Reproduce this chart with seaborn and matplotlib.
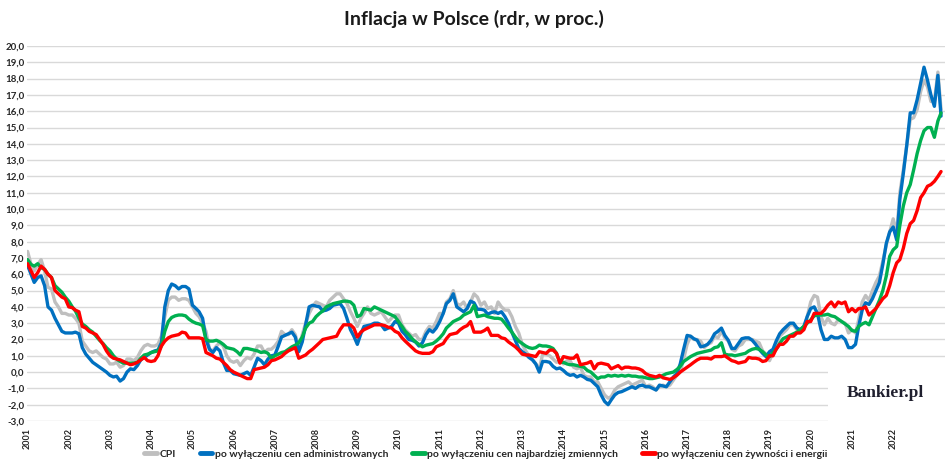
import matplotlib
matplotlib.use('Agg')
import matplotlib.pyplot as plt
from matplotlib.patches import Rectangle
import pandas as pd
import seaborn as sns

# monthly y/y inflation, Jan 2001 - Mar 2023
cpi = [
    7.4, 6.6, 6.2, 6.6, 6.9, 6.2, 5.2, 5.1, 4.3, 4.0, 3.6, 3.6,
    3.5, 3.5, 3.3, 3.0, 1.9, 1.6, 1.3, 1.2, 1.3, 1.1, 0.9, 0.8,
    0.5, 0.5, 0.6, 0.3, 0.4, 0.8, 0.8, 0.7, 0.9, 1.3, 1.6, 1.7,
    1.6, 1.6, 1.7, 2.2, 3.4, 4.4, 4.6, 4.6, 4.4, 4.5, 4.5, 4.4,
    4.0, 3.6, 3.4, 3.0, 2.5, 1.4, 1.3, 1.6, 1.8, 1.6, 1.0, 0.7,
    0.6, 0.7, 0.4, 0.7, 0.9, 0.8, 1.1, 1.6, 1.6, 1.2, 1.4, 1.4,
    1.6, 1.9, 2.5, 2.3, 2.3, 2.6, 2.3, 1.5, 2.3, 3.0, 3.6, 4.0,
    4.3, 4.2, 4.1, 4.0, 4.4, 4.6, 4.8, 4.8, 4.5, 4.2, 3.7, 3.3,
    2.8, 3.3, 3.6, 4.0, 3.6, 3.5, 3.6, 3.7, 3.4, 3.1, 3.3, 3.5,
    3.5, 2.9, 2.6, 2.4, 2.2, 2.3, 2.0, 2.0, 2.5, 2.8, 2.7, 3.1,
    3.6, 3.6, 4.3, 4.5, 5.0, 4.2, 4.1, 4.3, 3.9, 4.3, 4.8, 4.6,
    4.1, 4.3, 3.9, 4.0, 3.6, 4.3, 4.0, 3.8, 3.8, 3.4, 2.8, 2.4,
    1.7, 1.3, 1.0, 0.8, 0.5, 0.2, 1.1, 1.1, 1.0, 0.8, 0.6, 0.7,
    0.5, 0.7, 0.7, 0.3, 0.2, 0.3, -0.2, -0.3, -0.3, -0.6, -0.6, -1.0,
    -1.4, -1.6, -1.5, -1.1, -0.9, -0.8, -0.7, -0.6, -0.8, -0.7, -0.6, -0.5,
    -0.9, -0.8, -0.9, -1.1, -0.9, -0.8, -0.9, -0.8, -0.5, -0.2, 0.0, 0.8,
    1.7, 2.2, 2.0, 2.0, 1.9, 1.5, 1.7, 1.8, 2.2, 2.1, 2.5, 2.1,
    1.9, 1.4, 1.3, 1.6, 1.7, 2.0, 2.0, 2.0, 1.9, 1.8, 1.3, 1.1,
    0.7, 1.2, 1.7, 2.2, 2.4, 2.6, 2.9, 2.9, 2.6, 2.5, 2.6, 3.4,
    4.3, 4.7, 4.6, 3.4, 2.9, 3.3, 3.0, 2.9, 3.2, 3.1, 3.0, 2.4,
    2.6, 2.4, 3.2, 4.3, 4.7, 4.4, 5.0, 5.5, 5.9, 6.8, 7.8, 8.6,
    9.4, 8.5, 11.0, 12.4, 13.9, 15.5, 15.6, 16.1, 17.2, 17.9, 17.5, 16.6,
    16.6, 18.4, 16.1,
]

ex_admin = [
    6.55, 6.0, 5.5, 5.8, 5.9, 5.3, 4.0, 3.8, 3.3, 2.9, 2.5, 2.4,
    2.4, 2.4, 2.45, 2.35, 1.5, 1.1, 0.85, 0.6, 0.45, 0.3, 0.15, 0.0,
    -0.2, -0.3, -0.25, -0.55, -0.4, 0.0, 0.2, 0.15, 0.4, 0.75, 0.9, 1.05,
    1.2, 1.3, 1.35, 1.8, 4.0, 5.0, 5.4, 5.3, 5.1, 5.25, 5.25, 5.1,
    4.1, 3.9, 3.7, 3.3, 2.0, 1.4, 1.2, 1.5, 1.3, 0.6, 0.1, 0.1,
    -0.1, -0.15, -0.2, -0.1, 0.0, -0.2, 0.3, 0.85, 0.7, 0.45, 0.8, 1.0,
    1.05, 1.6, 2.15, 2.25, 2.35, 2.45, 2.15, 1.25, 1.85, 2.9, 4.0, 4.1,
    4.05, 4.0, 3.75, 3.8, 3.9, 4.1, 4.15, 4.2, 3.9, 3.3, 2.6, 2.2,
    1.7, 2.35, 2.8, 2.85, 2.9, 3.0, 3.0, 2.9, 2.6, 2.7, 2.8, 3.1,
    3.0, 2.5, 2.3, 2.0, 1.95, 1.85, 1.6, 1.8, 2.3, 2.6, 2.45, 2.7,
    3.1, 3.6, 4.2, 4.4, 4.8, 4.0, 3.85, 3.7, 3.9, 4.35, 4.25, 3.85,
    3.85, 3.8, 3.55, 3.65, 3.7, 3.6, 3.7, 3.4, 3.0, 2.45, 1.95, 1.45,
    1.25, 1.1, 0.9, 0.75, 0.5, 0.0, 0.65, 0.65, 0.6, 0.35, 0.2, 0.25,
    0.1, -0.1, -0.2, -0.15, -0.3, -0.2, -0.3, -0.45, -0.5, -0.7, -0.9, -1.4,
    -1.8, -2.0, -1.7, -1.4, -1.25, -1.2, -1.1, -1.0, -0.9, -1.0, -0.85, -0.8,
    -0.9, -0.9, -1.0, -1.1, -0.8, -0.85, -0.9, -0.6, -0.3, -0.1, 0.5, 1.4,
    2.25, 2.2, 2.05, 1.95, 1.55, 1.6, 1.7, 1.95, 2.35, 2.5, 2.7, 2.25,
    1.95, 1.45, 1.45, 1.75, 2.05, 2.1, 2.1, 1.95, 1.7, 1.4, 1.15, 0.95,
    1.25, 1.4, 1.9, 2.35, 2.6, 2.8, 3.0, 3.0, 2.7, 2.6, 2.8, 3.4,
    3.9, 4.0, 3.6, 2.6, 2.0, 2.0, 2.2, 2.1, 2.1, 2.2, 2.0, 1.5,
    1.5, 1.7, 2.8, 3.8, 4.25, 4.15, 4.5, 5.0, 5.5, 6.6, 7.9, 8.6,
    8.9, 8.1, 10.6, 12.2, 13.9, 15.9, 15.9, 16.7, 17.7, 18.7, 17.9, 17.0,
    16.3, 18.2, 15.7,
]

ex_volatile = [
    6.9, 6.6, 6.5, 6.65, 6.4, 6.3, 6.0, 5.8, 5.3, 5.1, 4.9, 4.6,
    4.35, 4.0, 3.75, 3.3, 2.95, 2.8, 2.6, 2.45, 2.2, 1.95, 1.75, 1.5,
    1.3, 1.0, 0.8, 0.65, 0.55, 0.55, 0.55, 0.55, 0.6, 0.85, 1.05, 1.1,
    1.2, 1.25, 1.3, 1.6, 2.5, 3.1, 3.35, 3.45, 3.5, 3.5, 3.45, 3.25,
    3.1, 3.0, 2.95, 2.85, 2.0, 1.9, 1.9, 1.95, 1.85, 1.7, 1.5, 1.45,
    1.4, 1.25, 1.05, 1.45, 1.45, 1.4, 1.35, 1.3, 1.2, 1.25, 1.15, 0.85,
    1.0, 1.1, 1.2, 1.25, 1.4, 1.55, 1.65, 1.8, 2.15, 2.7, 3.0, 3.1,
    3.4, 3.6, 3.75, 4.0, 4.1, 4.2, 4.25, 4.3, 4.35, 4.35, 4.3, 4.1,
    3.4, 3.5, 3.9, 3.85, 3.8, 4.0, 3.9, 3.8, 3.7, 3.6, 3.5, 3.4,
    3.1, 2.8, 2.5, 2.3, 2.05, 1.85, 1.7, 1.55, 1.65, 1.7, 1.75, 1.9,
    2.1, 2.35, 2.7, 2.9, 3.1, 3.2, 3.3, 3.5, 3.6, 3.7, 4.1, 3.4,
    3.45, 3.5, 3.4, 3.35, 3.3, 3.3, 3.25, 3.0, 2.7, 2.45, 2.15, 1.9,
    1.75, 1.6, 1.5, 1.45, 1.5, 1.65, 1.6, 1.6, 1.55, 1.45, 1.15, 0.6,
    0.6, 0.5, 0.45, 0.45, 0.4, 0.35, 0.3, 0.1, 0.0, -0.2, -0.4, -0.3,
    -0.3, -0.2, -0.25, -0.2, -0.25, -0.2, -0.25, -0.2, -0.25, -0.25, -0.3, -0.3,
    -0.35, -0.4, -0.4, -0.35, -0.3, -0.2, -0.1, -0.05, 0.0, 0.15, 0.35, 0.65,
    0.8, 0.95, 1.05, 1.15, 1.2, 1.25, 1.3, 1.35, 1.5, 1.55, 1.8, 1.1,
    1.05, 1.05, 1.0, 1.05, 1.1, 1.15, 1.3, 1.4, 1.45, 1.4, 1.25, 1.05,
    0.95, 1.2, 1.4, 1.75, 2.05, 2.15, 2.25, 2.35, 2.45, 2.6, 2.8, 3.0,
    3.2, 3.45, 3.5, 3.5, 3.5, 3.55, 3.45, 3.4, 3.25, 3.1, 2.95, 2.8,
    2.55, 2.5, 2.8, 2.95, 3.05, 2.9, 3.4, 3.9, 4.4, 5.0, 5.9, 7.1,
    7.5, 7.7, 9.0, 10.2, 11.0, 11.5, 12.4, 13.4, 14.2, 14.8, 15.0, 15.0,
    14.4, 15.4, 15.9,
]

ex_food_energy = [
    6.65, 6.2, 5.8, 6.1, 6.5, 6.3, 6.0, 5.8, 5.0, 4.8, 4.6, 4.5,
    4.0, 3.95, 3.8, 3.7, 2.8, 2.7, 2.5, 2.4, 2.3, 2.0, 1.7, 1.3,
    1.0, 0.85, 0.8, 0.75, 0.65, 0.55, 0.45, 0.5, 0.6, 0.75, 0.9, 0.7,
    0.65, 0.7, 1.0, 1.6, 1.9, 2.1, 2.2, 2.25, 2.3, 2.45, 2.4, 2.1,
    2.1, 2.1, 2.1, 2.05, 1.2, 1.1, 1.0, 0.85, 0.8, 0.6, 0.4, 0.15,
    0.0, -0.1, -0.2, -0.3, -0.4, -0.4, 0.15, 0.2, 0.25, 0.3, 0.45, 0.7,
    0.75, 0.85, 0.95, 1.15, 1.3, 1.4, 1.5, 0.85, 0.95, 1.05, 1.25, 1.4,
    1.6, 1.8, 2.0, 2.05, 2.1, 2.15, 2.2, 2.6, 2.9, 2.9, 2.9, 2.7,
    2.15, 2.45, 2.6, 2.7, 2.8, 2.9, 2.9, 2.9, 2.85, 2.75, 2.7, 2.5,
    2.4, 2.1, 1.9, 1.7, 1.5, 1.3, 1.2, 1.15, 1.15, 1.15, 1.25, 1.55,
    1.65, 1.75, 2.05, 2.3, 2.35, 2.4, 2.6, 2.75, 2.85, 3.1, 2.45, 2.45,
    2.45, 2.55, 2.7, 2.25, 2.25, 2.25, 2.1, 2.05, 1.85, 1.7, 1.55, 1.35,
    1.1, 1.05, 1.05, 1.0, 0.95, 1.25, 1.2, 1.15, 1.35, 1.35, 1.15, 0.55,
    0.95, 0.9, 0.85, 0.85, 1.05, 0.45, 0.5, 0.55, 0.65, 0.2, 0.5, 0.55,
    0.5, 0.45, 0.2, 0.3, 0.4, 0.2, 0.3, 0.3, 0.25, 0.25, 0.2, 0.1,
    -0.1, -0.2, -0.25, -0.3, -0.2, -0.35, -0.4, -0.45, -0.35, -0.2, 0.0, 0.15,
    0.3, 0.45, 0.6, 0.75, 0.85, 0.85, 0.85, 0.8, 0.95, 0.95, 0.95, 1.0,
    0.85, 0.7, 0.65, 0.55, 0.6, 0.65, 0.9, 0.85, 0.85, 0.8, 0.65, 0.7,
    1.0, 1.0, 1.4, 1.7, 1.7, 1.9, 2.2, 2.2, 2.4, 2.4, 2.6, 3.1,
    3.1, 3.6, 3.6, 3.6, 3.8, 4.1, 4.3, 4.0, 4.3, 4.2, 4.3, 3.7,
    3.9, 3.7, 3.9, 3.9, 4.0, 3.5, 3.7, 3.9, 4.2, 4.5, 4.7, 5.3,
    6.1, 6.7, 6.9, 7.6, 8.5, 9.1, 9.3, 9.9, 10.7, 11.0, 11.4, 11.5,
    11.7, 12.0, 12.3,
]

series_names = [
    'CPI',
    'po wyłączeniu cen administrowanych',
    'po wyłączeniu cen najbardziej zmiennych',
    'po wyłączeniu cen żywności i energii',
]
series_colors = ['#BFBFBF', '#0070C0', '#00B050', '#FF0000']
year_labels = [str(y) for y in range(2001, 2023)]


def main() -> None:
    frames = []
    for name, values in zip(series_names, [cpi, ex_admin, ex_volatile, ex_food_energy]):
        dates = pd.date_range('2001-01-01', periods=len(values), freq='MS')
        frames.append(pd.DataFrame({'date': dates, 'value': values, 'series': name}))
    df = pd.concat(frames, ignore_index=True)

    sns.set_theme(style='white')
    plt.rcParams['font.family'] = ['Lato', 'DejaVu Sans']

    fig = plt.figure(figsize=(9.48, 4.66), dpi=100)
    ax = fig.add_axes([27 / 948, 1 - 421 / 466, 918 / 948, 375 / 466])

    sns.lineplot(
        data=df,
        x='date',
        y='value',
        hue='series',
        hue_order=series_names,
        palette=dict(zip(series_names, series_colors)),
        linewidth=2.4,
        ax=ax,
    )

    ax.set_ylim(-3, 20)
    ax.set_yticks(range(-3, 21))
    ax.set_yticklabels([f'{v:.1f}'.replace('.', ',') for v in range(-3, 21)],
                       fontsize=7, fontweight='bold', color='#262626')
    ax.set_xlim(pd.Timestamp('2000-12-27'), pd.Timestamp('2023-04-05'))
    year_ticks = [pd.Timestamp(f'{y}-01-01') for y in year_labels]
    ax.set_xticks(year_ticks)
    ax.set_xticklabels(year_labels, rotation=90, fontsize=6.5, fontweight='bold', color='#262626')
    ax.tick_params(axis='both', length=0)
    ax.tick_params(axis='y', pad=2)
    ax.tick_params(axis='x', pad=5)
    ax.set_xlabel('')
    ax.set_ylabel('')
    ax.yaxis.grid(True, color='#D9D9D9', linewidth=1.0)
    ax.xaxis.grid(False)
    sns.despine(ax=ax, left=True, bottom=True)

    # white box under the logo hides the grid in the bottom-right corner
    ax.add_patch(Rectangle((0.8725, -0.02), 0.14, 0.177, transform=ax.transAxes,
                           facecolor='white', edgecolor='none', zorder=1, clip_on=False))
    fig.text(885 / 948, 1 - 393 / 466, 'Bankier.pl', ha='center', va='center',
             fontsize=12.5, fontweight='bold', family='Liberation Serif', color='#1F1F2E')

    fig.text(0.5, 1 - 19 / 466, 'Inflacja w Polsce (rdr, w proc.)', ha='center', va='center',
             fontsize=14, fontweight='bold', color='#1A1A1A')

    handles, labels = ax.get_legend_handles_labels()
    ax.get_legend().remove()
    for h in handles:
        h.set_linewidth(3.5)
    fig.legend(handles, labels, loc='center', bbox_to_anchor=(486 / 948, 1 - 454 / 466), ncol=4,
               frameon=False, prop={'size': 7.5, 'weight': 'bold'}, handlelength=1.2,
               handletextpad=0.25, columnspacing=2.3)

    fig.savefig('out.png', dpi=100)
    plt.close(fig)


if __name__ == '__main__':
    main()
